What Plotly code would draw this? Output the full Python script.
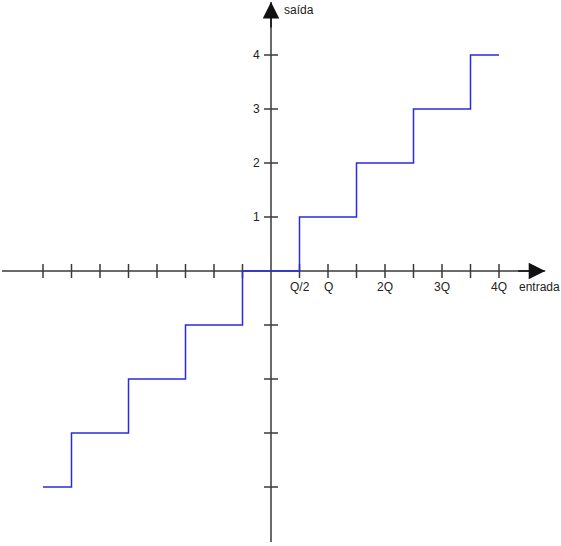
import plotly.graph_objects as go

# Data: mid-tread quantizer characteristic (input in units of Q, output levels)
step_edges = [-4, -3.5, -2.5, -1.5, -0.5, 0.5, 1.5, 2.5, 3.5, 4]
step_levels = [-4, -3, -2, -1, 0, 1, 2, 3, 4, 4]

x_ticks = [-4, -3.5, -3, -2.5, -2, -1.5, -1, -0.5, 0.5, 1, 1.5, 2, 2.5, 3, 3.5, 4]
x_labels_pos = [0.5, 1, 2, 3, 4]
x_labels = ["Q/2", "Q", "2Q", "3Q", "4Q"]
y_ticks = [-4, -3, -2, -1, 1, 2, 3, 4]
y_labels_pos = [1, 2, 3, 4]
y_labels = ["1", "2", "3", "4"]

x_axis_extent = [-4.72, 4.81]
y_axis_extent = [-5.02, 4.98]

AX = "#3a3a3a"
BLUE = "#2a2ae0"
FONT = "Liberation Sans, Arial, sans-serif"

fig = go.Figure()

# axes lines
fig.add_trace(go.Scatter(x=x_axis_extent, y=[0, 0], mode="lines",
                         line=dict(color=AX, width=1.5), hoverinfo="skip"))
fig.add_trace(go.Scatter(x=[0, 0], y=y_axis_extent, mode="lines",
                         line=dict(color=AX, width=1.5), hoverinfo="skip"))
# tick marks
fig.add_trace(go.Scatter(x=x_ticks, y=[0] * len(x_ticks), mode="markers",
                         marker=dict(symbol="line-ns", size=10,
                                     line=dict(color=AX, width=1.5)),
                         hoverinfo="skip"))
fig.add_trace(go.Scatter(x=[0] * len(y_ticks), y=y_ticks, mode="markers",
                         marker=dict(symbol="line-ew", size=10,
                                     line=dict(color=AX, width=1.5)),
                         hoverinfo="skip"))
# staircase
fig.add_trace(go.Scatter(x=step_edges, y=step_levels, mode="lines",
                         line=dict(color=BLUE, width=1.5, shape="hv"),
                         hoverinfo="skip"))

annotations = []
# arrowheads
annotations.append(dict(x=x_axis_extent[1], y=0, ax=x_axis_extent[1] - 0.5, ay=0,
                        xref="x", yref="y", axref="x", ayref="y", text="",
                        showarrow=True, arrowhead=2, arrowsize=2.2, arrowwidth=1.5,
                        arrowcolor="#111"))
annotations.append(dict(x=0, y=y_axis_extent[1], ax=0, ay=y_axis_extent[1] - 0.5,
                        xref="x", yref="y", axref="x", ayref="y", text="",
                        showarrow=True, arrowhead=2, arrowsize=2.2, arrowwidth=1.5,
                        arrowcolor="#111"))
# tick labels
for p, t in zip(x_labels_pos, x_labels):
    annotations.append(dict(x=p, y=-0.30, text=t, showarrow=False, xanchor="center",
                            yanchor="middle", font=dict(family=FONT, size=12, color="#222")))
for p, t in zip(y_labels_pos, y_labels):
    annotations.append(dict(x=-0.16, y=p, text=t, showarrow=False, xanchor="right",
                            yanchor="middle", font=dict(family=FONT, size=12, color="#222")))
annotations.append(dict(x=4.31, y=-0.30, text="entrada", showarrow=False, xanchor="left",
                        yanchor="middle", font=dict(family=FONT, size=12, color="#222")))
annotations.append(dict(x=0.19, y=4.83, text="saída", showarrow=False, xanchor="left",
                        yanchor="middle", font=dict(family=FONT, size=12, color="#222")))

fig.update_layout(
    width=561, height=546,
    margin=dict(l=0, r=0, t=0, b=0),
    paper_bgcolor="white", plot_bgcolor="white",
    showlegend=False,
    xaxis=dict(range=[-271 / 57, 290 / 57], visible=False, fixedrange=True),
    yaxis=dict(range=[-275 / 54, 271 / 54], visible=False, fixedrange=True),
    annotations=annotations,
)

fig.write_html("out.html")
